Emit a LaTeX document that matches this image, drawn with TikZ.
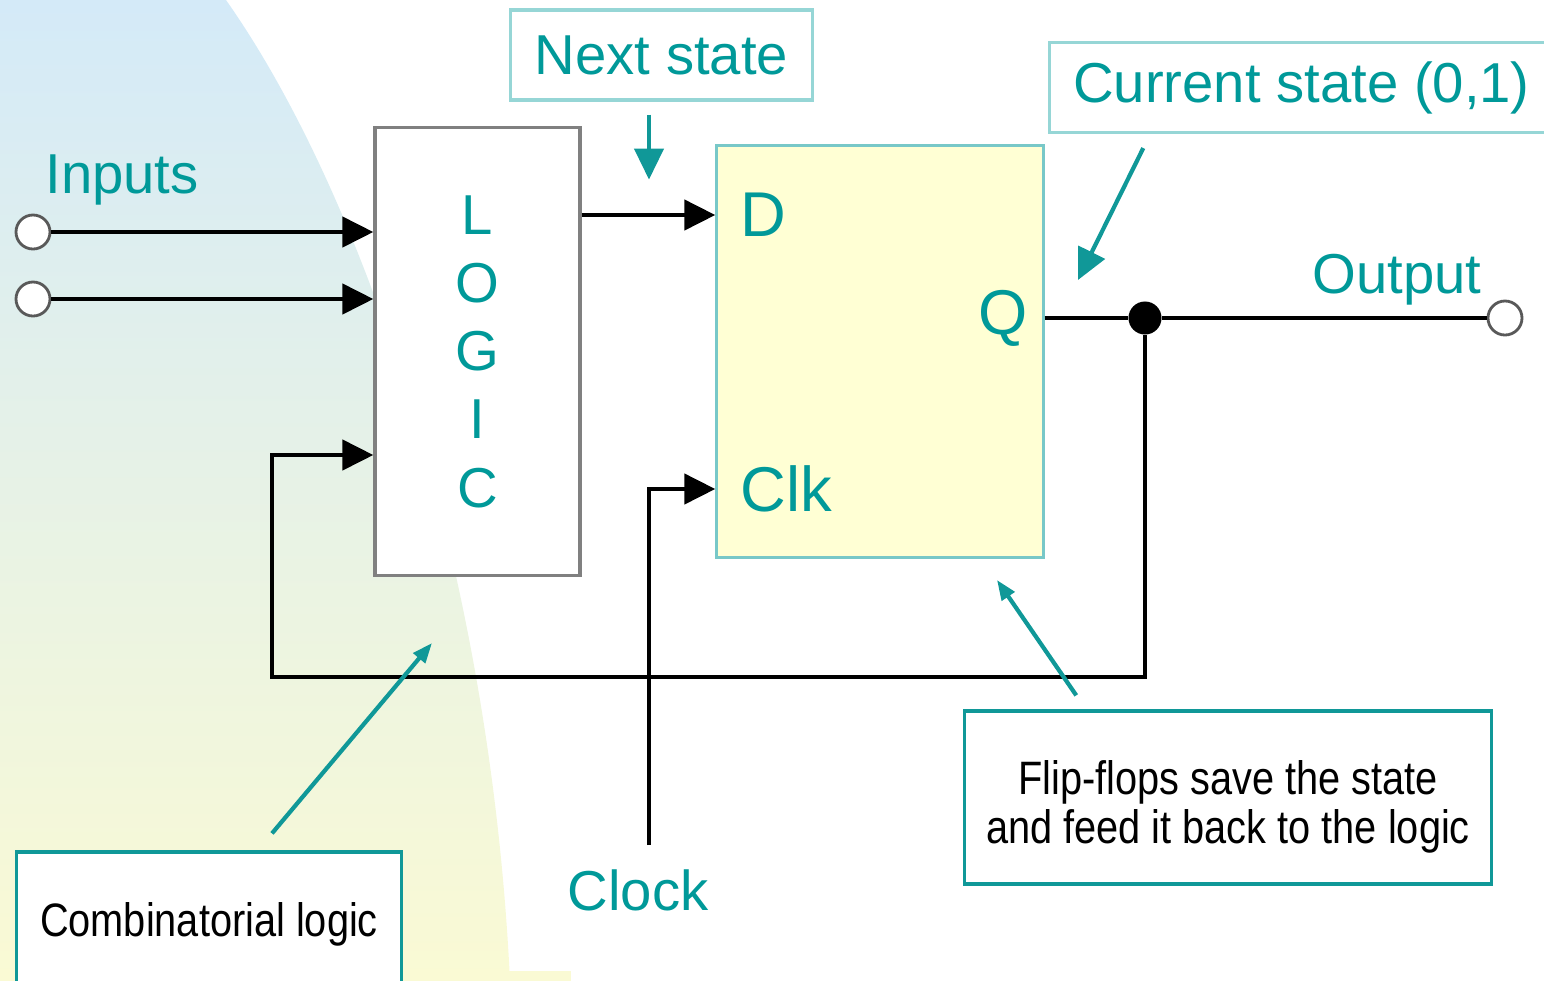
\documentclass[tikz,border=0pt]{standalone}
\usepackage{fontspec}
\usepackage{graphicx}
\setmainfont{Liberation Sans}
\usetikzlibrary{positioning, arrows.meta, calc}

\definecolor{tealtext}{RGB}{0,153,153}
\definecolor{tealline}{RGB}{16,152,152}
\definecolor{tagline}{RGB}{150,214,214}
\definecolor{ffline}{RGB}{120,200,200}
\definecolor{ffyellow}{RGB}{255,255,212}
\definecolor{bgblue}{RGB}{212,234,248}
\definecolor{bgmid}{RGB}{229,241,233}
\definecolor{bgyellow}{RGB}{250,250,212}

\newcommand{\tallnote}[2][0pt]{\raisebox{-#1}[\height][\depth]{\scalebox{1}[1.18]{\begin{tabular}{@{}c@{}}#2\end{tabular}}}}

\begin{document}
\begin{tikzpicture}[x=0.01cm, y=-0.01cm, >={Triangle[length=3.1mm, width=3mm]}]
        \tikzstyle{logicbox} = [rectangle, draw=gray, line width=0.9pt, fill=white, minimum width=2.05cm, minimum height=4.47cm, text=tealtext, align=center, font=\fontsize{16}{19.4}\selectfont]
        \tikzstyle{ffbox} = [rectangle, draw=ffline, line width=0.9pt, fill=ffyellow, minimum width=3.26cm, minimum height=4.11cm]
        \tikzstyle{tag} = [rectangle, draw=tagline, line width=0.9pt, fill=white, text=tealtext, font=\fontsize{16}{19}\selectfont, minimum height=0.9cm]
        \tikzstyle{note} = [rectangle, draw=tealline, line width=0.9pt, fill=white, inner sep=0pt, font=\fontsize{11.3}{11.5}\selectfont]
        \tikzstyle{sigtext} = [text=tealtext, font=\fontsize{16}{19}\selectfont, inner sep=0pt]
        \tikzstyle{pintext} = [text=tealtext, font=\fontsize{18}{21}\selectfont, inner sep=0pt]
        \tikzstyle{port} = [circle, draw=gray!70!black, line width=0.8pt, fill=white, minimum size=0.34cm, inner sep=0pt]
        \tikzstyle{junction} = [circle, fill=black, minimum size=0.33cm, inner sep=0pt]
        \tikzstyle{wire} = [line width=1.3pt]
        \tikzstyle{pointer} = [line width=1.2pt, draw=tealline, -{Triangle[length=3.1mm, width=2.9mm]}]
        \tikzstyle{smallpointer} = [line width=1.2pt, draw=tealline, -{Triangle[length=2mm, width=1.5mm]}]

        \useasboundingbox (0,0) rectangle (1544,981);

        % background
        \shade[top color=bgblue, middle color=bgmid, bottom color=bgyellow] (0,0) -- (226,0) .. controls (360,190) and (490,560) .. (510,981) -- (0,981) -- cycle;
        \fill[bgyellow] (505,971) rectangle (571,981);

        \node[logicbox] (logic) at (477.5,351.5) {L\\O\\G\\I\\C};
        \node[ffbox] (ff) at (880,351.5) {};
        \node[pintext, anchor=west] (dlbl) at (740,215) {D};
        \node[pintext] (qlbl) at (1003,318) {Q};
        \node[pintext, anchor=west] (clklbl) at (740,489) {Clk};

        \node[tag, minimum width=3.01cm] (next) at (661.5,55) {Next state};
        \node[tag, minimum width=5.03cm] (current) at (1301.5,87.5) {Current state (0,1)};

        \node[sigtext] (inputs) at (122,180) {Inputs};
        \node[sigtext] (output) at (1397,280) {Output};
        \node[sigtext] (clock) at (638,890) {Clock};

        \node[port] (in1) at (33,232) {};
        \node[port] (in2) at (33,299) {};
        \node[port] (out) at (1505,318) {};
        \node[junction] (tap) at (1145,318) {};

        \coordinate (fbl) at (272,677);
        \coordinate (fbin) at (272,455);
        \coordinate (clkfoot) at (649,845);
        \coordinate (qmark) at (1078,280);
        \coordinate (logicmark) at (432,643);
        \coordinate (ffmark) at (997,580);

        \node[note, minimum width=3.84cm, minimum height=1.38cm] (combnote) at (209,921) {\tallnote[1.5pt]{Combinatorial logic}};
        \node[note, minimum width=5.26cm, minimum height=1.73cm] (ffnote) at (1228,797.5) {\tallnote[3.3pt]{Flip-flops save the state\\and feed it back to the logic}};

        % signals
        \draw[wire, ->] (in1) -- (in1 -| logic.west);
        \draw[wire, ->] (in2) -- (in2 -| logic.west);
        \draw[wire, ->] (logic.east |- dlbl) -- (ff.west |- dlbl);
        \draw[wire] (ff.east |- tap) -- (tap) -- (out);
        \draw[wire, ->] (tap) |- (fbl) |- (fbin -| logic.west);
        \draw[wire, ->] (clkfoot) |- (ff.west |- clklbl);

        % callouts
        \draw[pointer] ($(next.south)+(-12.5,13)$) -- ($(next.south)+(-12.5,78)$);
        \draw[pointer] ($(current.south west)+(95,14)$) -- (qmark);
        \draw[smallpointer] ($(combnote.north)+(63,-17)$) -- (logicmark);
        \draw[smallpointer] ($(ffnote.north west)+(113,-14)$) -- (ffmark);

    \end{tikzpicture}
\end{document}
